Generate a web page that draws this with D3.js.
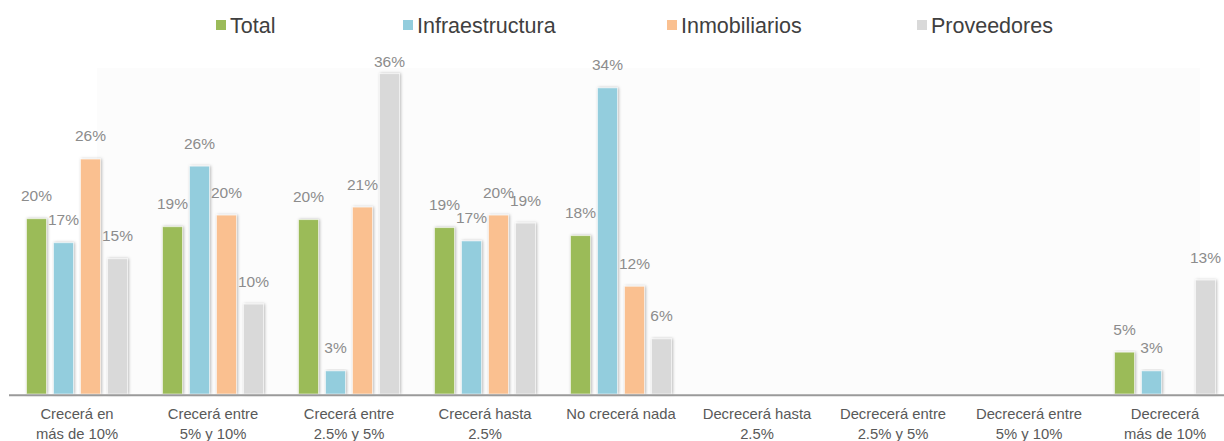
<!DOCTYPE html>
<html>
<head>
<meta charset="utf-8">
<script src="https://cdn.jsdelivr.net/npm/d3@7"></script>
<style>
  html, body { margin: 0; padding: 0; background: #ffffff; }
  svg { display: block; font-family: "Liberation Sans", "Helvetica Neue", Arial, sans-serif; }
</style>
</head>
<body>
<svg id="chart" width="1224" height="441"></svg>
<script>
// ---- data ----
const categories = [
  ["Crecerá en", "más de 10%"],
  ["Crecerá entre", "5% y 10%"],
  ["Crecerá entre", "2.5% y 5%"],
  ["Crecerá hasta", "2.5%"],
  ["No crecerá nada"],
  ["Decrecerá hasta", "2.5%"],
  ["Decrecerá entre", "2.5% y 5%"],
  ["Decrecerá entre", "5% y 10%"],
  ["Decrecerá", "más de 10%"]
];
const seriesNames = ["Total", "Infraestructura", "Inmobiliarios", "Proveedores"];
const total           = [19.7, 18.8, 19.6, 18.7, 17.8, null, null, null, 4.7];
const infraestructura = [17.0, 25.6, 2.6, 17.2, 34.4, null, null, null, 2.6];
const inmobiliarios   = [26.4, 20.1, 21.0, 20.1, 12.1, null, null, null, null];
const proveedores     = [15.2, 10.1, 36.0, 19.2, 6.2, null, null, null, 12.8];
const seriesValues = [total, infraestructura, inmobiliarios, proveedores];
const seriesColors = ["#9BBB59", "#93CDDD", "#FAC090", "#D9D9D9"];

// ---- layout ----
const svg = d3.select("#chart");
const baseY = 394;
const catKeys = categories.map((c, i) => "c" + i);

const x = d3.scaleBand().domain(catKeys).range([9, 9 + 136 * 9]).padding(0);
const xSub = d3.scaleBand().domain(seriesNames).range([0, 108])
  .paddingInner(7 / 27).paddingOuter(3.5 / 27);
const y = d3.scaleLinear().domain([0, 40]).range([baseY, baseY - 356]);

const defs = svg.append("defs");
const f = defs.append("filter").attr("id", "shadow")
  .attr("x", "-30%").attr("y", "-5%").attr("width", "160%").attr("height", "110%");
f.append("feDropShadow").attr("dx", 1).attr("dy", 0).attr("stdDeviation", 1.4)
  .attr("flood-color", "#000").attr("flood-opacity", 0.28);

// faint plot-area background
svg.append("rect").attr("x", 97).attr("y", 68).attr("width", 1103).attr("height", baseY - 68)
  .attr("fill", "#fcfcfc");

// bars
const barData = [];
seriesNames.forEach((s, si) => {
  seriesValues[si].forEach((v, ci) => {
    if (v !== null) barData.push({ s, si, ci, v });
  });
});

const groupOffset = (ci) => x(catKeys[ci]) + x.bandwidth() / 2 - 54;

svg.append("g").selectAll("rect").data(barData).join("rect")
  .attr("x", d => groupOffset(d.ci) + xSub(d.s))
  .attr("y", d => y(d.v))
  .attr("width", xSub.bandwidth())
  .attr("height", d => baseY - y(d.v))
  .attr("fill", d => seriesColors[d.si])
  .attr("stroke", "rgba(255,255,255,0.55)")
  .attr("stroke-width", 1)
  .attr("filter", "url(#shadow)");

// value labels
svg.append("g").selectAll("text").data(barData).join("text")
  .attr("x", d => groupOffset(d.ci) + xSub(d.s) + xSub.bandwidth() / 2)
  .attr("y", d => Math.max(y(d.v) - 23, 62))
  .attr("dy", "0.35em")
  .attr("text-anchor", "middle")
  .attr("font-size", 15.5)
  .attr("fill", "#8c8c8c")
  .text(d => Math.round(d.v) + "%");

// axis line
svg.append("line").attr("x1", 9).attr("x2", 1224).attr("y1", baseY + 1.2).attr("y2", baseY + 1.2)
  .attr("stroke", "#9a9a9a").attr("stroke-width", 2);

// category labels
const catG = svg.append("g").selectAll("text").data(categories).join("text")
  .attr("x", (d, i) => x(catKeys[i]) + x.bandwidth() / 2)
  .attr("y", 419)
  .attr("text-anchor", "middle")
  .attr("font-size", 14.8)
  .attr("fill", "#595959");
catG.each(function (d) {
  const t = d3.select(this);
  d.forEach((line, li) => {
    t.append("tspan").attr("x", t.attr("x")).attr("dy", li === 0 ? 0 : 19.5).text(line);
  });
});

// legend
const legendX = [216, 403, 667, 917];
const lg = svg.append("g").selectAll("g").data(seriesNames).join("g")
  .attr("transform", (d, i) => `translate(${legendX[i]},25)`);
lg.append("rect").attr("x", 0).attr("y", -5).attr("width", 10).attr("height", 10)
  .attr("fill", (d, i) => seriesColors[i]);
lg.append("text").attr("x", 14).attr("y", 0).attr("dy", "0.35em")
  .attr("font-size", 21.5).attr("fill", "#404040").text(d => d);
</script>
</body>
</html>
